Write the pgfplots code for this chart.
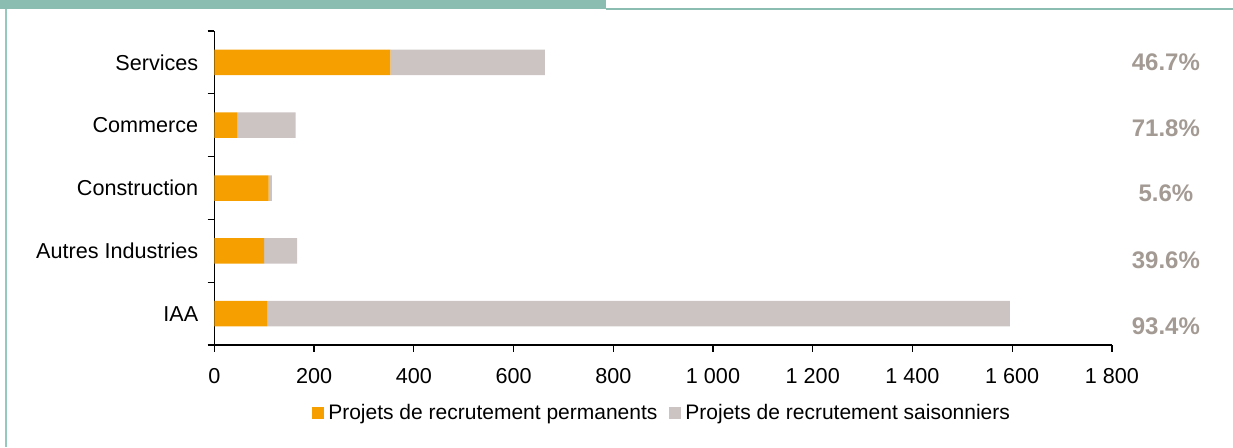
\documentclass[border=0pt]{standalone}
\usepackage{fontspec}
\setmainfont{Liberation Sans}
\usepackage{pgfplots}
\pgfplotsset{compat=1.18}
\definecolor{perm}{HTML}{F5A000}
\definecolor{sais}{HTML}{CCC3C3}
\definecolor{pct}{HTML}{A39A94}
\definecolor{band}{HTML}{8BBDB0}
\definecolor{bord}{HTML}{94C9BC}

\pgfplotstableread{
y perm sais
0 106 1489
1 100 66
2 109 6.5
3 46 117
4 353 310
}\emplois

\begin{document}
\begin{tikzpicture}
  \path[use as bounding box] (0,0) rectangle (616.5pt,-223.5pt);
  \fill[band] (0,0) rectangle (302.85pt,-4.35pt);
  \draw[band, line width=1pt] (302.85pt,-4.6pt) -- (616.5pt,-4.6pt);
  \draw[bord, line width=1pt] (2.75pt,-4.35pt) -- (2.75pt,-223.5pt);
  \begin{axis}[
      at={(107.15pt,-172.5pt)}, anchor=south west,
      scale only axis, width=448.85pt, height=157pt,
      xbar stacked, bar width=12.75pt,
      xmin=0, xmax=1800, ymin=-0.5, ymax=4.5,
      axis lines*=left, axis line style={black, line width=0.6pt},
      clip=false,
      xtick={0,200,400,600,800,1000,1200,1400,1600,1800},
      xticklabels={0,200,400,600,800,1 000,1 200,1 400,1 600,1 800},
      ytick={-0.5,0.5,1.5,2.5,3.5,4.5},
      yticklabels={},
      extra y ticks={0,1,2,3,4},
      extra y tick labels={IAA, Autres Industries, Construction, Commerce, Services},
      extra y tick style={major tick length=0pt},
      tick align=outside,
      major tick length=3.3pt,
      tick style={black, line width=0.6pt},
      tick label style={font=\fontsize{10.8}{12}\selectfont},
      yticklabel style={xshift=-4.5pt},
      xticklabel style={yshift=-5pt},
      legend style={at={(axis description cs:0.5,0)}, anchor=center,
        yshift=-34pt, draw=none, font=\fontsize{10.5}{12}\selectfont,
        /tikz/every even column/.append style={column sep=4pt}},
      legend columns=2,
      legend image code/.code={\fill[#1] (0pt,-3pt) rectangle (6pt,3pt);},
    ]
    \addplot[fill=perm, draw=none] table[x=perm, y=y] {\emplois};
    \addplot[fill=sais, draw=none] table[x=sais, y=y] {\emplois};
    \legend{Projets de recrutement permanents, Projets de recrutement saisonniers}
    \node[text=pct, font=\fontsize{12}{14}\selectfont\bfseries] at (axis cs:1908,4.0) {46.7\%};
    \node[text=pct, font=\fontsize{12}{14}\selectfont\bfseries] at (axis cs:1908,2.95) {71.8\%};
    \node[text=pct, font=\fontsize{12}{14}\selectfont\bfseries] at (axis cs:1908,1.91) {5.6\%};
    \node[text=pct, font=\fontsize{12}{14}\selectfont\bfseries] at (axis cs:1908,0.85) {39.6\%};
    \node[text=pct, font=\fontsize{12}{14}\selectfont\bfseries] at (axis cs:1908,-0.2) {93.4\%};
  \end{axis}
\end{tikzpicture}
\end{document}
